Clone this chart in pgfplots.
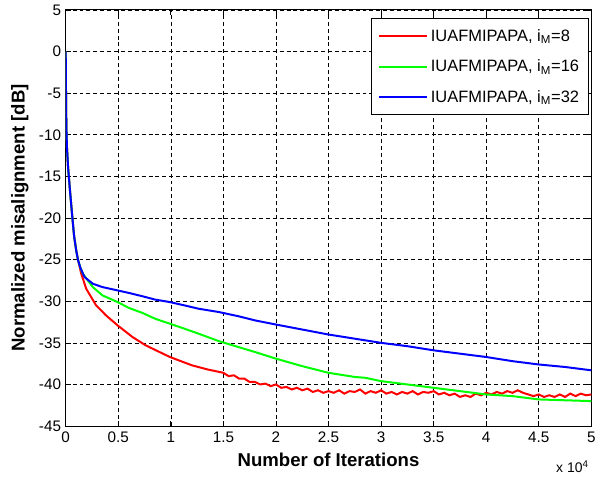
\documentclass[border=0pt]{standalone}
\usepackage{fontspec}
\setmainfont{Liberation Sans}
\usepackage{pgfplots}
\pgfplotsset{compat=1.18}

\begin{document}
\begin{tikzpicture}
\begin{axis}[
  scale only axis, width=396pt, height=313.5pt,
  xmin=0, xmax=50000, ymin=-45, ymax=5,
  scaled x ticks=false,
  xtick={0,5000,...,50000},
  xticklabels={0,0.5,1,1.5,2,2.5,3,3.5,4,4.5,5},
  ytick={-45,-40,...,5},
  yticklabels={-45,-40,-35,-30,-25,-20,-15,-10,-5,0,5},
  tick align=inside, tick pos=both, major tick length=3.75pt,
  tick style={black, line width=0.5pt},
  grid=major,
  grid style={black, line width=0.45pt, dash pattern=on 3pt off 2.2pt},
  axis line style={black, line width=0.75pt},
  ticklabel style={font=\fontsize{11.5}{13}\selectfont},
  xticklabel style={yshift=-1pt},
  xlabel={Number of Iterations},
  ylabel={Normalized misalignment [dB]},
  label style={font=\fontsize{14}{16}\selectfont\bfseries},
  xlabel style={at={(rel axis cs:0.5,0)}, anchor=base, yshift=-30.5pt},
  ylabel style={at={(rel axis cs:0,0.5)}, anchor=center, yshift=34.5pt},
  legend style={at={(rel axis cs:0.995,0.98)}, anchor=north east,
    draw=black, line width=0.5pt, fill=white,
    font=\fontsize{12.4}{14}\selectfont, row sep=8.5pt,
    inner xsep=5pt, inner ysep=6pt},
  legend cell align=left,
  legend image code/.code={\draw[#1] (0pt,0pt) -- (36pt,0pt);},
  every axis plot/.append style={line width=1.5pt},
]
\addplot[red] coordinates {
(0,0) (30,-5) (60,-9) (120,-11.5) (220,-13.8) (380,-16.3) (600,-19.5)
(800,-22.2) (1000,-23.9) (1164,-25) (1478,-26.7) (1950,-28.5) (2893,-30.5)
(3836,-31.7) (4937,-32.9) (6352,-34.3) (7610,-35.3) (9906,-36.7)
(12013,-37.7) (13500,-38.2) (15000,-38.6) (15500,-39.0) (16000,-38.9)
(16500,-39.3) (17000,-39.3) (17500,-39.7) (18000,-39.7) (18500,-40.0)
(19000,-39.9) (19500,-40.2) (20000,-40.0) (20500,-40.4) (21000,-40.3)
(21500,-40.6) (22000,-40.4) (22500,-40.7) (23000,-40.5) (23500,-40.9)
(24000,-40.7) (24500,-41.0) (25000,-40.8) (25500,-41.0) (26000,-40.7)
(26500,-41.1) (27000,-40.8) (27500,-40.9) (28000,-40.6) (28500,-41.1)
(29000,-40.8) (29500,-41.0) (30000,-40.7) (30500,-41.1) (31000,-40.9)
(31500,-41.2) (32000,-40.9) (32500,-41.1) (33000,-40.8) (33500,-41.2)
(34000,-40.9) (34500,-41.0) (35000,-40.8) (35500,-41.2) (36000,-41.0)
(36500,-41.3) (37000,-41.1) (37500,-41.5) (38000,-41.3) (38500,-41.5)
(39000,-41.1) (39500,-41.3) (40000,-41.0) (40500,-41.2) (41000,-40.9)
(41500,-41.1) (42000,-40.8) (42500,-41.0) (43000,-40.7) (43500,-41.0)
(44000,-41.2) (44500,-41.4) (45000,-41.2) (45500,-41.5) (46000,-41.3)
(46500,-41.5) (47000,-41.2) (47500,-41.5) (48000,-41.1) (48500,-41.4)
(49000,-41.1) (49500,-41.3) (50000,-41.2)
};
\addlegendentry{IUAFMIPAPA, i\textsubscript{M}=8}
\addplot[green] coordinates {
(0,0) (30,-5) (60,-9) (120,-11.5) (220,-13.8) (380,-16.3) (600,-19.5)
(800,-22.2) (1000,-23.9) (1164,-25) (1400,-26) (1635,-26.7) (2579,-28.3)
(3500,-29.3) (4937,-30.1) (6000,-30.8) (7296,-31.4) (8500,-32.1)
(9906,-32.7) (11300,-33.3) (12642,-33.9) (14583,-34.8) (16415,-35.5)
(18000,-36.1) (20000,-36.9) (22500,-37.8) (25000,-38.6) (27500,-39.1)
(28500,-39.2) (30000,-39.6) (32500,-40.0) (35000,-40.4) (37500,-40.8)
(40000,-41.2) (42500,-41.4) (45000,-41.8) (47500,-41.9) (50000,-42.0)
};
\addlegendentry{IUAFMIPAPA, i\textsubscript{M}=16}
\addplot[blue] coordinates {
(0,0) (30,-5) (60,-9) (120,-11.5) (220,-13.8) (380,-16.3) (600,-19.5)
(800,-22.2) (1000,-23.9) (1164,-25) (1400,-26) (1792,-27.1) (2579,-27.9)
(3500,-28.3) (4937,-28.7) (6000,-29.0) (7296,-29.4) (8500,-29.8)
(9906,-30.1) (11300,-30.5) (12642,-30.9) (14583,-31.3) (16415,-31.8)
(18000,-32.3) (20000,-32.8) (22500,-33.4) (25000,-34.0) (27500,-34.5)
(30000,-35.0) (32500,-35.4) (35000,-35.9) (37500,-36.3) (40000,-36.7)
(42500,-37.2) (45000,-37.6) (47500,-37.9) (50000,-38.3)
};
\addlegendentry{IUAFMIPAPA, i\textsubscript{M}=32}
\end{axis}
\node[anchor=base east, font=\fontsize{10.5}{12}\selectfont]
  at ([shift={(1.5pt,-35pt)}]current axis.south east) {x 10\textsuperscript{4}};
\path ([shift={(-49.5pt,-37.5pt)}]current axis.south west)
  rectangle ([shift={(4.5pt,7.5pt)}]current axis.north east);
\end{tikzpicture}
\end{document}
